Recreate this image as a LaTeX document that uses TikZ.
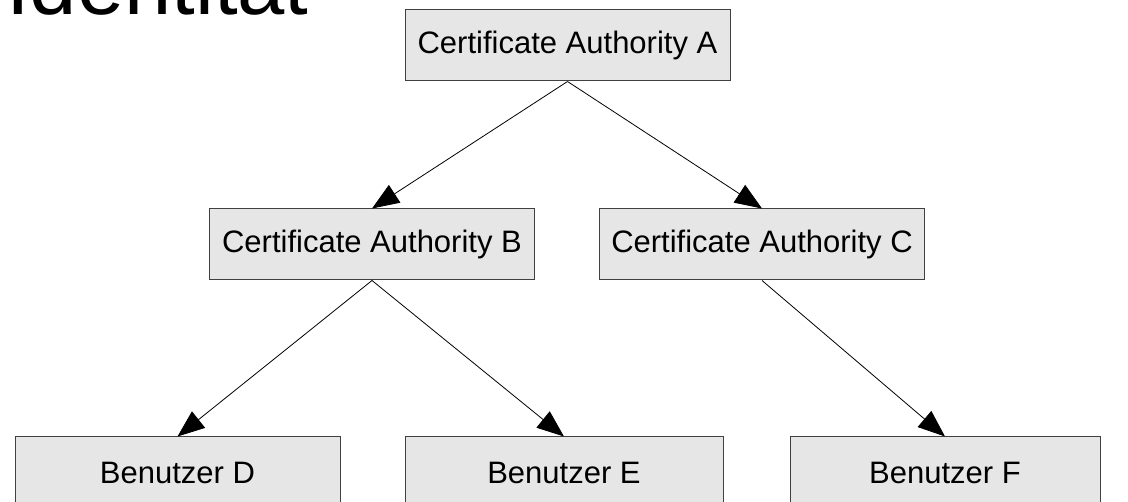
\documentclass[tikz,border=0pt]{standalone}
\usepackage{fontspec}
\setmainfont{Liberation Sans}
\usetikzlibrary{arrows.meta}
\definecolor{boxgray}{HTML}{E6E6E6}
\tikzset{
  cabox/.style={draw=black!75, line width=1pt, fill=boxgray, minimum width=325pt,
    minimum height=71pt, inner sep=0pt, font=\fontsize{31}{36}\selectfont},
  arr/.style={line width=0.8pt, -{Triangle[length=27pt,width=21pt]}}
}
\begin{document}
\begin{tikzpicture}[x=1pt,y=-1pt]
\useasboundingbox (0,0) rectangle (1128,502);
\clip (0,0) rectangle (1128,502);
\node[anchor=base west, inner sep=0pt, font=\fontsize{85}{90}\selectfont] (title) at (6,15) {Identität};
\node[cabox] (caA) at (567.5,45.5) {Certificate Authority A};
\node[cabox] (caB) at (372,244.5) {Certificate Authority B};
\node[cabox] (caC) at (762,244.5) {Certificate Authority C};
\node[cabox] (userD) at (177.5,472.5) {Benutzer D};
\node[cabox, minimum width=318pt] (userE) at (564,472.5) {Benutzer E};
\node[cabox, minimum width=310pt] (userF) at (945,472.5) {Benutzer F};
\draw[arr] (caA.south) -- (caB.north);
\draw[arr] (caA.south) -- (caC.north);
\draw[arr] (caB.south) -- (userD.north);
\draw[arr] (caB.south) -- (userE.north);
\draw[arr] (caC.south) -- (userF.north);
\end{tikzpicture}
\end{document}
